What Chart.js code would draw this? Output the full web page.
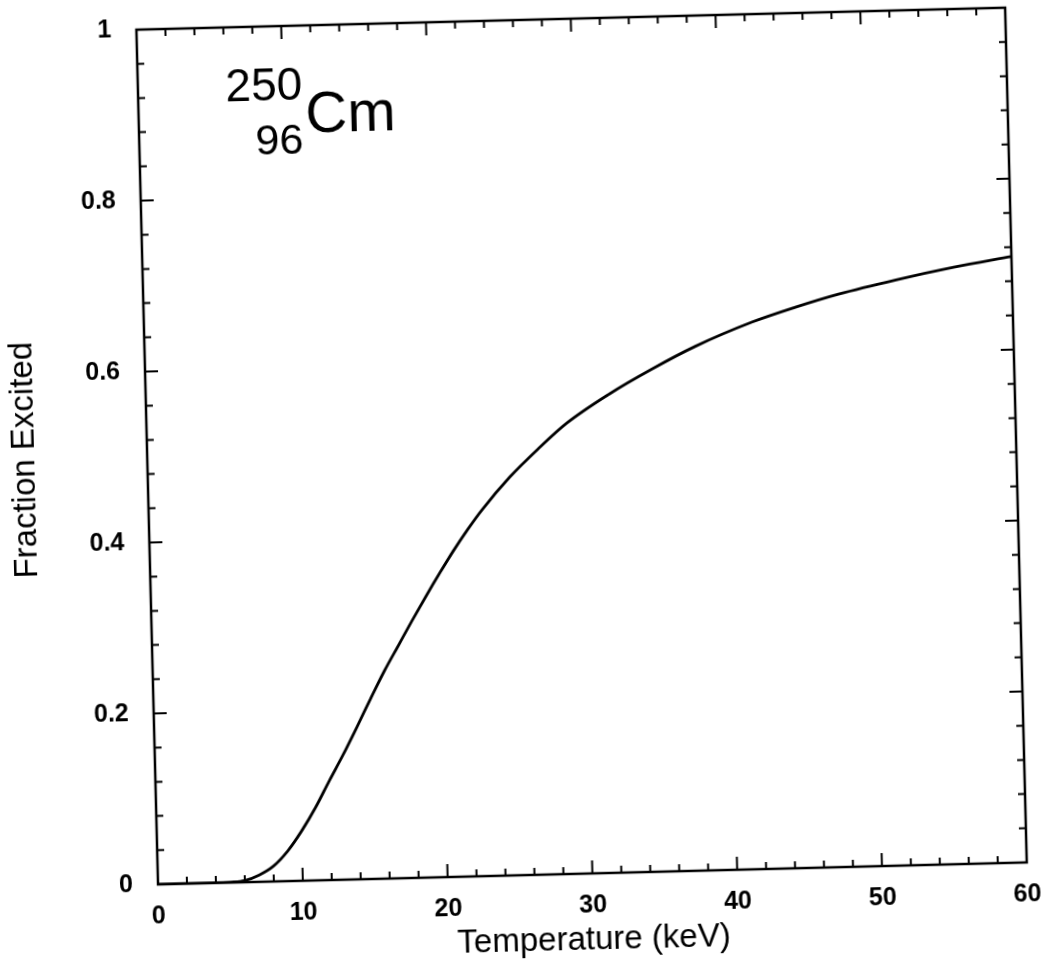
<!DOCTYPE html>
<html>
<head>
<meta charset="utf-8">
<title>Fraction Excited - Cm 250</title>
<script src="https://cdn.jsdelivr.net/npm/chart.js@4.4.1/dist/chart.umd.min.js"></script>
<style>
  html, body { margin: 0; padding: 0; background: #fff; overflow: hidden; }
  /* the scanned figure is slightly tilted */
  #grafico { display: block; transform: rotate(-1.45deg); }
</style>
</head>
<body>
<canvas id="grafico" width="1050" height="967"></canvas>
<script>
const temperatures = [0, 2, 4, 5, 6, 7, 8, 9, 10, 11, 12, 13, 14, 15, 16, 17, 18, 19, 20, 21, 22, 23, 25, 27, 29, 32, 35, 38, 42, 45, 48, 52, 56, 60];
const fractionExcited = [0, 0, 0, 0.0005, 0.002, 0.008, 0.018, 0.035, 0.058, 0.085, 0.116, 0.146, 0.178, 0.211, 0.243, 0.272, 0.301, 0.329, 0.356, 0.382, 0.406, 0.428, 0.466, 0.498, 0.527, 0.56, 0.588, 0.613, 0.64, 0.656, 0.67, 0.685, 0.698, 0.709];
const yTickLabels = ["0", "0.2", "0.4", "0.6", "0.8", "1"];

const FONT = "Liberation Sans";

// tick marks pointing inwards on all four sides + frame
const frameTicks = {
  id: "frameTicks",
  afterDatasetsDraw(chart) {
    const { ctx, chartArea: a, scales: { x, y } } = chart;
    ctx.save();
    ctx.strokeStyle = "#000";
    ctx.lineWidth = 2;
    ctx.beginPath();

    for (let v = 0; v <= 60; v += 2) {
      const px = x.getPixelForValue(v);
      const len = v % 10 === 0 ? 13 : 7;
      ctx.moveTo(px, a.bottom);
      ctx.lineTo(px, a.bottom - len);
      ctx.moveTo(px, a.top);
      ctx.lineTo(px, a.top + len);
    }

    for (let i = 0; i <= 25; i++) {
      const py = y.getPixelForValue(i * 0.04);
      const len = i % 5 === 0 ? 13 : 7;
      ctx.moveTo(a.left, py);
      ctx.lineTo(a.left + len, py);
      ctx.moveTo(a.right, py);
      ctx.lineTo(a.right - len, py);
    }
    ctx.stroke();

    ctx.lineWidth = 2.5;
    ctx.strokeRect(a.left, a.top, a.right - a.left, a.bottom - a.top);
    ctx.restore();
  },
};

// nuclide label 250/96 Cm
const nuclideLabel = {
  id: "nuclideLabel",
  afterDraw(chart) {
    const { ctx, scales: { x, y } } = chart;
    ctx.save();
    ctx.fillStyle = "#000";
    ctx.textAlign = "left";
    ctx.textBaseline = "alphabetic";

    ctx.font = `46px "${FONT}"`;
    ctx.fillText("250", x.getPixelForValue(6.05), y.getPixelForValue(0.9135));

    ctx.font = `43px "${FONT}"`;
    ctx.fillText("96", x.getPixelForValue(8.03), y.getPixelForValue(0.8507));

    ctx.font = `58px "${FONT}"`;
    ctx.fillText("Cm", x.getPixelForValue(11.52), y.getPixelForValue(0.875));
    ctx.restore();
  },
};

const ctx = document.getElementById("grafico").getContext("2d");

new Chart(ctx, {
  type: "line",
  data: {
    datasets: [
      {
        data: temperatures.map((t, i) => ({ x: t, y: fractionExcited[i] })),
        borderColor: "#000",
        borderWidth: 2.8,
        pointRadius: 0,
        cubicInterpolationMode: "monotone",
        fill: false,
      },
    ],
  },
  options: {
    responsive: false,
    animation: false,
    layout: {
      padding: { left: 0, right: 33, top: 20, bottom: 0 },
    },
    plugins: {
      legend: { display: false },
      tooltip: { enabled: false },
    },
    scales: {
      x: {
        type: "linear",
        min: 0,
        max: 60,
        grid: { display: false },
        border: { display: false },
        ticks: {
          stepSize: 10,
          color: "#000",
          padding: 9,
          maxRotation: 0,
          font: { family: FONT, size: 25, weight: "bold" },
        },
        title: {
          display: true,
          text: "Temperature (keV)",
          color: "#000",
          font: { family: FONT, size: 33 },
          padding: { top: 0, bottom: 5 },
        },
        afterFit(scale) {
          scale.height = 92;
        },
      },
      y: {
        min: 0,
        max: 1,
        grid: { display: false },
        border: { display: false },
        ticks: {
          stepSize: 0.2,
          color: "#000",
          padding: 17,
          font: { family: FONT, size: 25, weight: "bold" },
          callback: function (value, index) {
            return yTickLabels[index];
          },
        },
        title: {
          display: true,
          text: "Fraction Excited",
          color: "#000",
          font: { family: FONT, size: 33 },
          padding: { top: 6, bottom: 0 },
        },
        afterFit(scale) {
          scale.width = 148;
          // tick padding should not push the plot area down
          scale.paddingTop = 15;
          scale.paddingBottom = 15;
        },
      },
    },
  },
  plugins: [frameTicks, nuclideLabel],
});
</script>
</body>
</html>
